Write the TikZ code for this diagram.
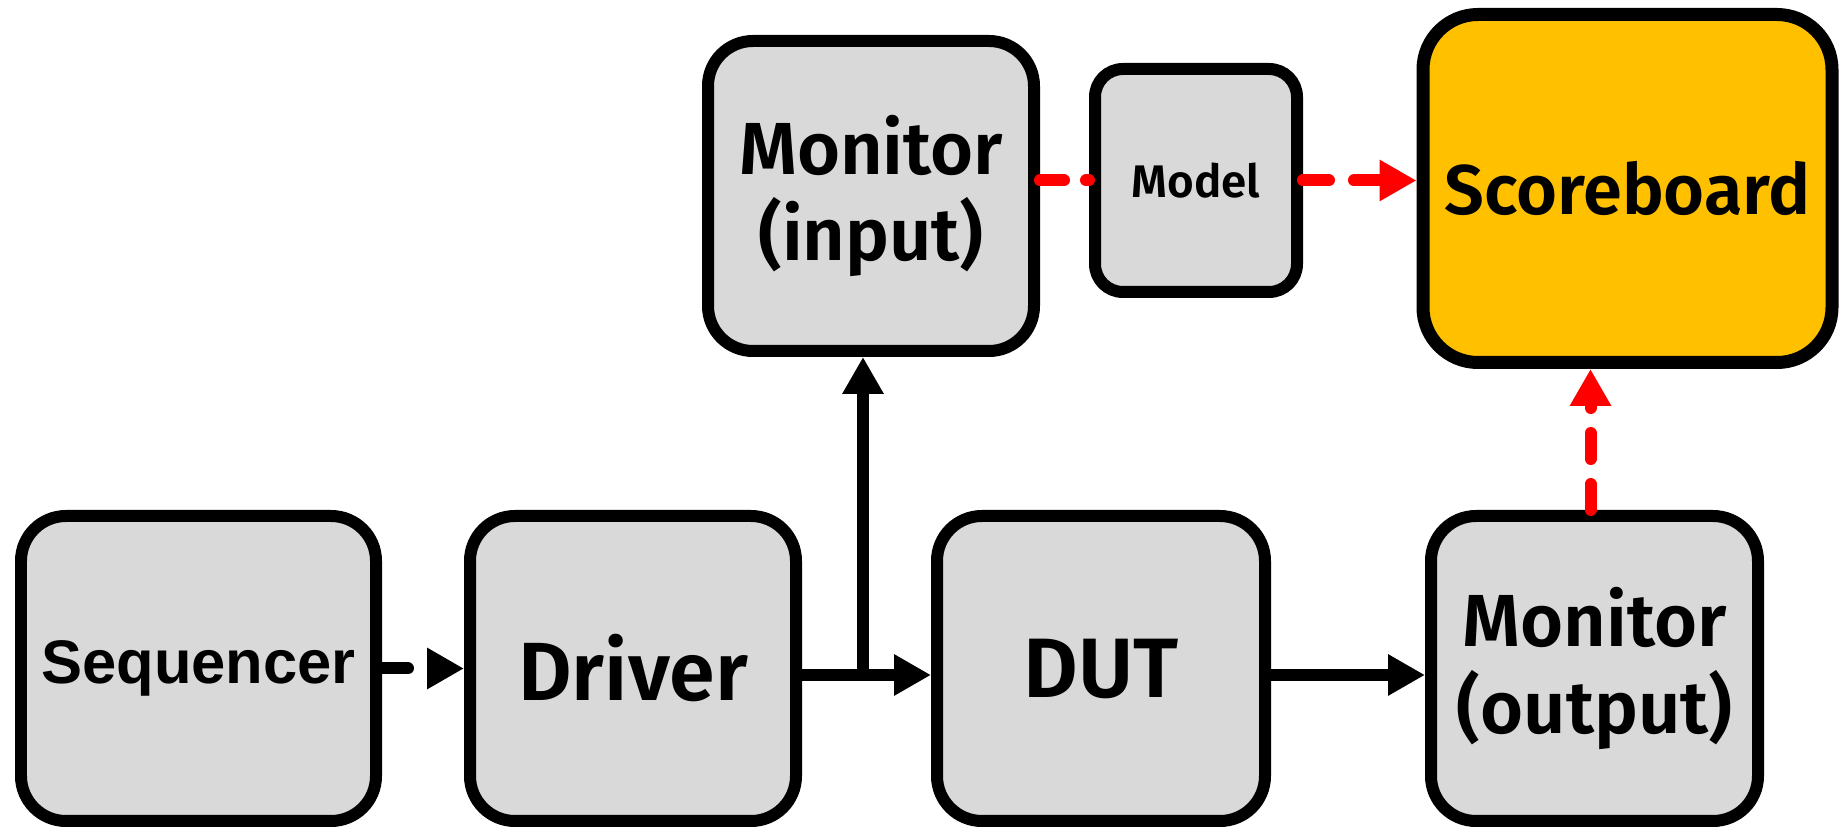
\documentclass[tikz,border=0pt]{standalone}
\usepackage{fontspec}
\setmainfont{Fira Sans}[BoldFont={Fira Sans SemiBold}]
\newfontfamily\arialfont{Liberation Sans}
\usetikzlibrary{arrows.meta}

\definecolor{boxgray}{HTML}{D9D9D9}
\definecolor{boardgold}{HTML}{FFC000}
\definecolor{linkred}{HTML}{FF0000}

\begin{document}
\begin{tikzpicture}[
    blok/.style={draw, line width=0.12cm, fill=boxgray, rounded corners=0.45cm,
      align=center, inner sep=0pt, font=\bfseries},
    fletxa/.style={line width=0.12cm, -{Triangle[length=0.37cm,width=0.39cm]}},
    ratlla/.style={line width=0.12cm, line cap=round, dash pattern=on 0.26cm off 0.25cm},
  ]
  \useasboundingbox (0,0) rectangle (18.46,8.28);
  % Fila inferior
  \node[blok, minimum width=3.55cm, minimum height=3.05cm] (seq) at (1.985,1.595)
    {\arialfont\bfseries\fontsize{17.5}{21}\selectfont Sequencer};
  \node[blok, minimum width=3.26cm, minimum height=3.05cm,
    font=\bfseries\fontsize{23.5}{27}\selectfont] (drv) at (6.33,1.595) {Driver};
  \node[blok, minimum width=3.28cm, minimum height=3.05cm,
    font=\bfseries\fontsize{24}{28}\selectfont] (dut) at (11.01,1.595) {DUT};
  \node[blok, minimum width=3.27cm, minimum height=3.05cm,
    font=\bfseries\fontsize{21}{24.5}\selectfont] (monout) at (15.945,1.595) {Monitor\\(output)};
  % Fila superior
  \node[blok, minimum width=3.26cm, minimum height=3.10cm,
    font=\bfseries\fontsize{21}{24.5}\selectfont] (monin) at (8.71,6.32) {Monitor\\(input)};
  \node[blok, minimum width=2.02cm, minimum height=2.23cm, rounded corners=0.28cm,
    font=\bfseries\fontsize{13}{15}\selectfont] (mdl) at (11.96,6.475) {Model};
  \node[blok, fill=boardgold, line width=0.13cm, minimum width=4.09cm, minimum height=3.48cm,
    rounded corners=0.55cm, font=\bfseries\fontsize{20}{24}\selectfont] (sb) at (16.275,6.395) {Scoreboard};
  % Connexions
  \coordinate (split) at (8.63,1.53);
  \draw[fletxa, ratlla] (seq.east) -- (drv.west);
  \draw[fletxa] (drv.east |- split) -- (dut.west |- split);
  \draw[fletxa] (split) -- (monin.south -| split);
  \draw[fletxa] (dut.east |- split) -- (monout.west |- split);
  % Comparacio (vermell)
  \draw[ratlla, linkred, dash pattern=on 0.24cm off 0.22cm] (monin.east |- mdl) -- (mdl.west);
  \draw[fletxa, ratlla, linkred] (mdl.east) -- (sb.west |- mdl);
  \draw[fletxa, ratlla, linkred] ([xshift=-0.04cm]monout.north) -- ([xshift=-0.04cm]monout.north |- sb.south);
\end{tikzpicture}
\end{document}
